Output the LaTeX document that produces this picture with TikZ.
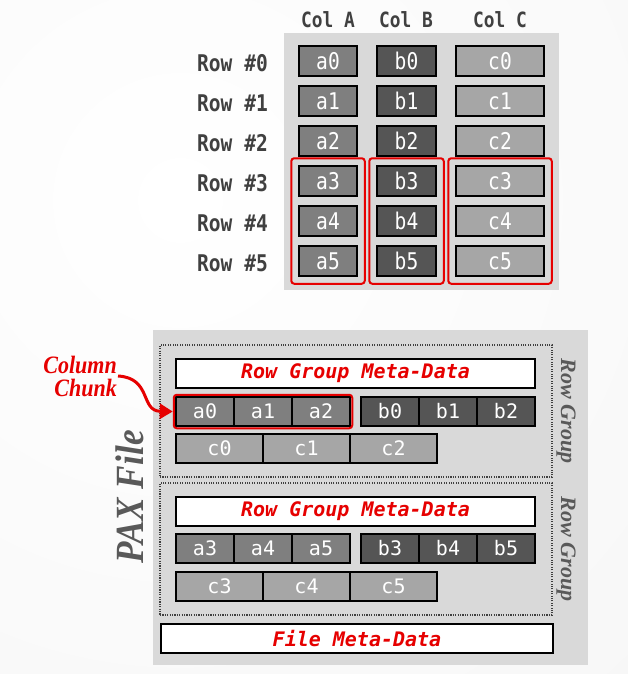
\documentclass[tikz,border=0pt]{standalone}
\usepackage{fontspec}
\setmainfont{Liberation Serif}
\setmonofont{DejaVu Sans Mono}
\newfontfamily\condmono{DejaVu Sans Mono}[FakeStretch=0.85]
\newfontfamily\condserif{Liberation Serif}[FakeStretch=0.88]
\usetikzlibrary{arrows.meta,fit}

\definecolor{colA}{HTML}{7F7F7F}
\definecolor{colB}{HTML}{555555}
\definecolor{colC}{HTML}{A6A6A6}
\definecolor{panel}{HTML}{D9D9D9}
\definecolor{lbl}{HTML}{404040}
\definecolor{hl}{HTML}{E60000}
\definecolor{paxgray}{HTML}{595959}

\begin{document}
\begin{tikzpicture}[
    x=1pt, y=-1pt,
    cell/.style={
        draw=black, line width=1.5pt, inner sep=0pt,
        minimum height=30pt, text=white,
        font=\ttfamily\fontsize{20}{20}\selectfont
    },
    acell/.style={cell, fill=colA, minimum width=58pt},
    bcell/.style={cell, fill=colB, minimum width=58pt},
    ccell/.style={cell, fill=colC, minimum width=87pt},
    bigcell/.style={font=\condmono\fontsize{23}{23}\selectfont},
    head/.style={text=lbl, font=\condmono\bfseries\fontsize{21}{21}\selectfont},
    rowlbl/.style={head, anchor=east, inner sep=0pt, font=\condmono\bfseries\fontsize{23}{23}\selectfont},
    redbox/.style={draw=hl, line width=2pt, rounded corners=3pt, inner sep=#1},
    redbox/.default=7pt,
    meta/.style={
        draw=black, line width=1.5pt, fill=white, inner sep=0pt,
        minimum height=29pt, text=hl,
        font=\ttfamily\bfseries\itshape\fontsize{20}{20}\selectfont
    },
    group/.style={draw=black!75, line width=1.2pt, dash pattern=on 1.1pt off 1.3pt,
        minimum width=392pt, minimum height=132pt, inner sep=0pt},
    sidelbl/.style={text=paxgray, font=\bfseries\itshape\fontsize{22}{22}\selectfont}
]
\useasboundingbox (0,0) rectangle (628,674);
% slide background
\begin{scope}
    \clip (0,0) rectangle (628,674);
    \shade[inner color=white, outer color=black!6] (180,200) circle (1300);
\end{scope}

% row store table
\fill[panel] (284,33) rectangle (559,290);
\node[head] (colA) at (328,20) {Col A};
\node[head] (colB) at (406,20) {Col B};
\node[head] (colC) at (500,20) {Col C};
\foreach \i in {0,...,5}{
    \node[rowlbl] (row\i) at (268,63+40*\i) {Row \#\i};
    \node[acell, bigcell] (a\i) at (328,61+40*\i) {a\i};
    \node[bcell, bigcell, minimum width=59pt] (b\i) at (406.5,61+40*\i) {b\i};
    \node[ccell, bigcell, minimum width=88pt] (c\i) at (500,61+40*\i) {c\i};
}
\node[redbox, fit=(a3)(a5)] (grpA) {};
\node[redbox, fit=(b3)(b5)] (grpB) {};
\node[redbox, fit=(c3)(c5)] (grpC) {};

% pax file
\fill[panel] (153,330) rectangle (588,665);
\node[sidelbl, rotate=90, font=\condserif\bfseries\itshape\fontsize{40}{40}\selectfont] (pax) at (130,497) {PAX File};
\foreach \g/\ym/\yab/\yc in {1/373.5/411.5/448.5, 2/511.5/548.5/586.5}{
    \node[group] (rg\g) at (356,\ym+37.5) {};
    \node[sidelbl, rotate=-90] (rgl\g) at (566,\ym+37.5) {Row Group};
    \node[meta, minimum width=359pt] (meta\g) at (355.5,\ym) {Row Group Meta-Data};
    \foreach \k in {0,1,2}{
        \pgfmathtruncatemacro{\n}{3*(\g-1)+\k}
        \node[acell, minimum height=29pt] (pa\n) at (205+58*\k,\yab) {a\n};
        \node[bcell, minimum height=29pt] (pb\n) at (390+58*\k,\yab) {b\n};
        \node[ccell, minimum height=29pt] (pc\n) at (219.5+87*\k,\yc) {c\n};
    }
}
\node[meta, minimum width=392pt] (filemeta) at (357,638.5) {File Meta-Data};

% column chunk callout
\node[redbox=1.5pt, fit=(pa0)(pa2)] (chunk) {};
\node[text=hl, align=right, anchor=east, inner sep=1pt,
    font=\condserif\bfseries\itshape\fontsize{25}{23}\selectfont] (chunklbl) at (118,376) {Column\\Chunk};
\draw[hl, line width=3pt, -{Triangle[length=13pt,width=15pt]}]
    (chunklbl.east) .. controls (152,378) and (140,411) .. (chunk.west);
\end{tikzpicture}
\end{document}
